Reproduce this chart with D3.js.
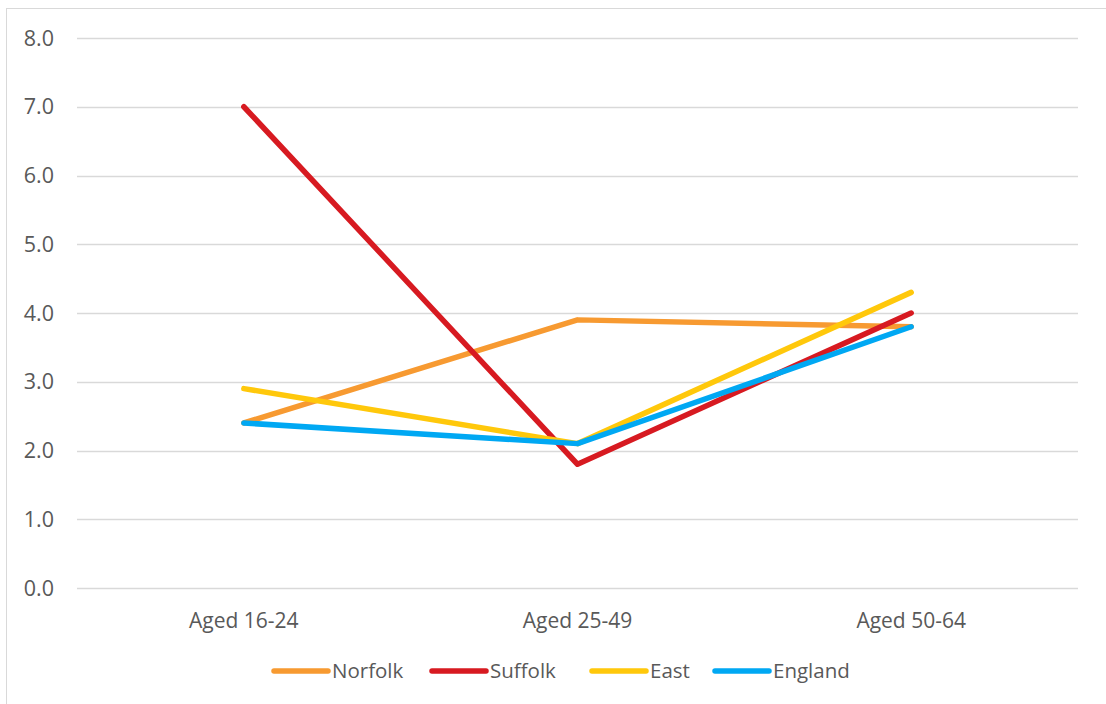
<!DOCTYPE html>
<html>
<head>
<meta charset="utf-8">
<script src="https://cdn.jsdelivr.net/npm/d3@7"></script>
<style>
  body { margin: 0; background: #fff; }
  text { font-family: "Open Sans", sans-serif; fill: #595959; }
</style>
</head>
<body>
<div id="chart"></div>
<script>
const W = 1106;
const H = 704;

// data
var categories = ["Aged 16-24", "Aged 25-49", "Aged 50-64"];
var seriesNames = ["Norfolk", "Suffolk", "East", "England"];
var norfolk = [2.4, 3.9, 3.8];
var suffolk = [7.0, 1.8, 4.0];
var east = [2.9, 2.1, 4.3];
var england = [2.4, 2.1, 3.8];
var yTicks = [0, 1, 2, 3, 4, 5, 6, 7, 8];

var colors = ["#F79A31", "#D71A21", "#FFC80B", "#00A8F3"];
var series = [norfolk, suffolk, east, england].map((vals, i) => ({
  name: seriesNames[i],
  color: colors[i],
  values: vals
}));

var svg = d3.select("#chart").append("svg")
  .attr("width", W)
  .attr("height", H);

// chart border
svg.append("rect")
  .attr("x", 6.5)
  .attr("y", 8.5)
  .attr("width", W + 10)
  .attr("height", H + 10)
  .attr("fill", "none")
  .attr("stroke", "#d9d9d9")
  .attr("stroke-width", 1);

var x = d3.scaleBand()
  .domain(categories)
  .range([77, 1078]);

var y = d3.scaleLinear()
  .domain([0, 8])
  .range([588, 38]);

// gridlines
svg.append("g")
  .selectAll("line")
  .data(yTicks)
  .enter()
  .append("line")
  .attr("x1", 77)
  .attr("x2", 1078)
  .attr("y1", d => Math.round(y(d)) + 0.5)
  .attr("y2", d => Math.round(y(d)) + 0.5)
  .attr("stroke", "#d9d9d9")
  .attr("stroke-width", 1.3);

// y axis labels
svg.append("g")
  .selectAll("text")
  .data(yTicks)
  .enter()
  .append("text")
  .text(d => d.toFixed(1))
  .attr("x", 54)
  .attr("y", d => y(d))
  .attr("dy", "0.36em")
  .attr("text-anchor", "end")
  .style("font-size", "21.5px");

// x axis labels
svg.append("g")
  .selectAll("text")
  .data(categories)
  .enter()
  .append("text")
  .text(d => d)
  .attr("x", d => x(d) + x.bandwidth() / 2)
  .attr("y", 620)
  .attr("dy", "0.36em")
  .attr("text-anchor", "middle")
  .style("font-size", "21px");

var line = d3.line()
  .x((d, i) => x(categories[i]) + x.bandwidth() / 2)
  .y(d => y(d));

svg.append("g")
  .selectAll("path")
  .data(series)
  .enter()
  .append("path")
  .attr("d", d => line(d.values))
  .attr("fill", "none")
  .attr("stroke", d => d.color)
  .attr("stroke-width", 5.5)
  .attr("stroke-linecap", "round")
  .attr("stroke-linejoin", "round");

// legend
var legendX = [272, 430, 590, 713];
var legend = svg.append("g")
  .selectAll("g")
  .data(series)
  .enter()
  .append("g")
  .attr("transform", (d, i) => "translate(" + legendX[i] + ",671)");

legend.append("line")
  .attr("x1", 2)
  .attr("x2", 56)
  .attr("stroke", d => d.color)
  .attr("stroke-width", 5.5)
  .attr("stroke-linecap", "round");

legend.append("text")
  .text(d => d.name)
  .attr("x", 60)
  .attr("dy", "0.36em")
  .style("font-size", "20.5px");
</script>
</body>
</html>
